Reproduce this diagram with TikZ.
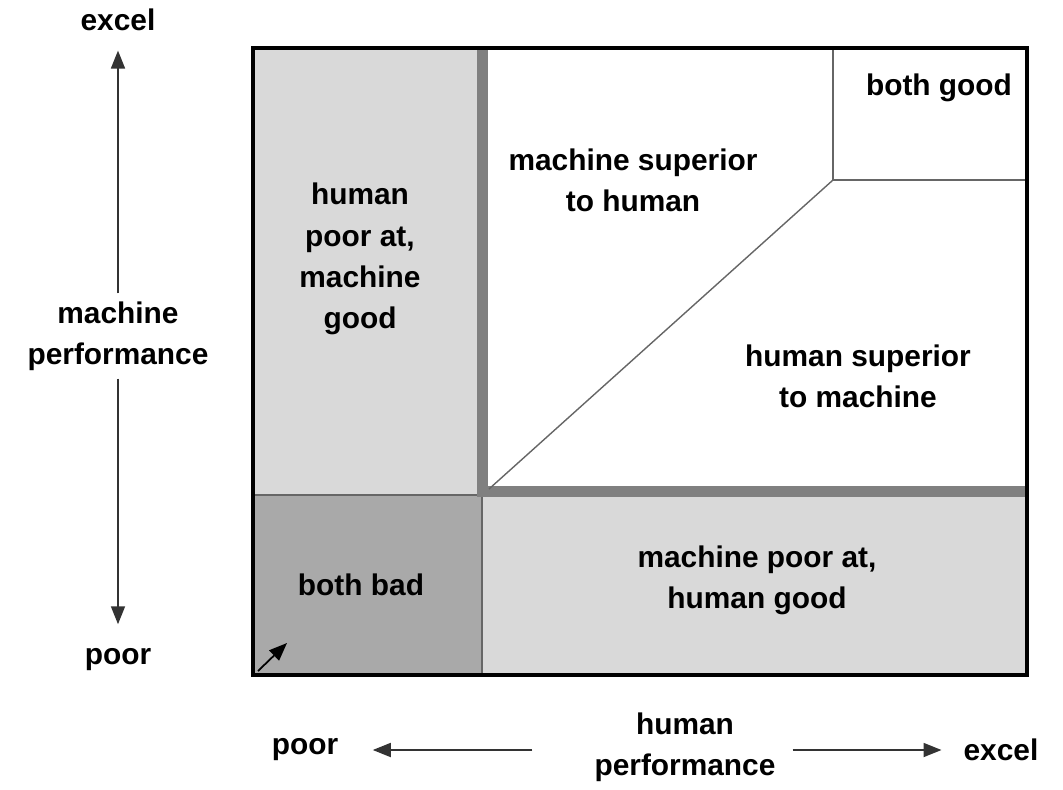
\documentclass[tikz,border=0pt]{standalone}
\usepackage{fontspec}
\setmainfont{Liberation Sans}
\usetikzlibrary{positioning,arrows.meta}
\tikzset{
>={Triangle[length=0.36cm,width=0.28cm]}, % filled arrow heads
lbl/.style={font=\bfseries\fontsize{17}{23.5}\selectfont, align=center, inner sep=1pt},
axis/.style={->, line width=1pt, black!80},
thin line/.style={draw=black!60, line width=0.8pt},
}
\definecolor{lightfill}{HTML}{D9D9D9}
\definecolor{darkfill}{HTML}{A9A9A9}
\definecolor{barline}{HTML}{808080}

\begin{document}
\begin{tikzpicture}[x=0.02cm,y=-0.02cm]
\useasboundingbox (0,0) rectangle (1063,789);
% regions
\fill[lightfill] (253,48) rectangle (482,495);
\fill[lightfill] (482,495) rectangle (1027,675);
\filldraw[fill=darkfill, thin line] (253,495) rectangle (482,675);
\draw[barline, line width=0.22cm] (482,48) -- (482,491) -- (1027,491);
\draw[thin line] (833,48) -- (833,180) -- (1027,180);
\draw[thin line] (833,180) -- (489,489);
\draw[line width=0.08cm] (253,48) rectangle (1027,675);
\coordinate (origin) at (258,671);
\coordinate (corner) at (287,643);
\draw[->, line width=1pt] (origin) -- (corner);
% region labels
\node[lbl] (hpoor) at (360,259) {human\\poor at,\\machine\\good};
\node[lbl] (msup) at (633,180) {machine superior\\to human};
\node[lbl] (good) at (939,88) {both good};
\node[lbl] (hsup) at (858,376) {human superior\\to machine};
\node[lbl] (bad) at (361,585) {both bad};
\node[lbl] (mpoor) at (757,580) {machine poor at,\\human good};
% vertical axis
\node[lbl] (yexcel) at (118,20) {excel};
\node[lbl] (yperf) at (118,336) {machine\\performance};
\node[lbl] (ypoor) at (118,660) {poor};
\draw[axis, shorten <=0.12cm, shorten >=0.35cm] (yperf) -- (yexcel);
\draw[axis, shorten <=0.12cm, shorten >=0.45cm] (yperf) -- (ypoor);
% horizontal axis
\node[lbl] (xpoor) at (305,750) {poor};
\node[lbl] (xperf) at (685,747) {human\\performance};
\node[lbl] (xexcel) at (1001,750) {excel};
\draw[axis, shorten <=1.2cm, shorten >=0.65cm] (xperf.west |- xpoor) -- (xpoor);
\draw[axis, shorten <=0.3cm, shorten >=0.4cm] (xperf.east |- xexcel) -- (xexcel);
\end{tikzpicture}
\end{document}
